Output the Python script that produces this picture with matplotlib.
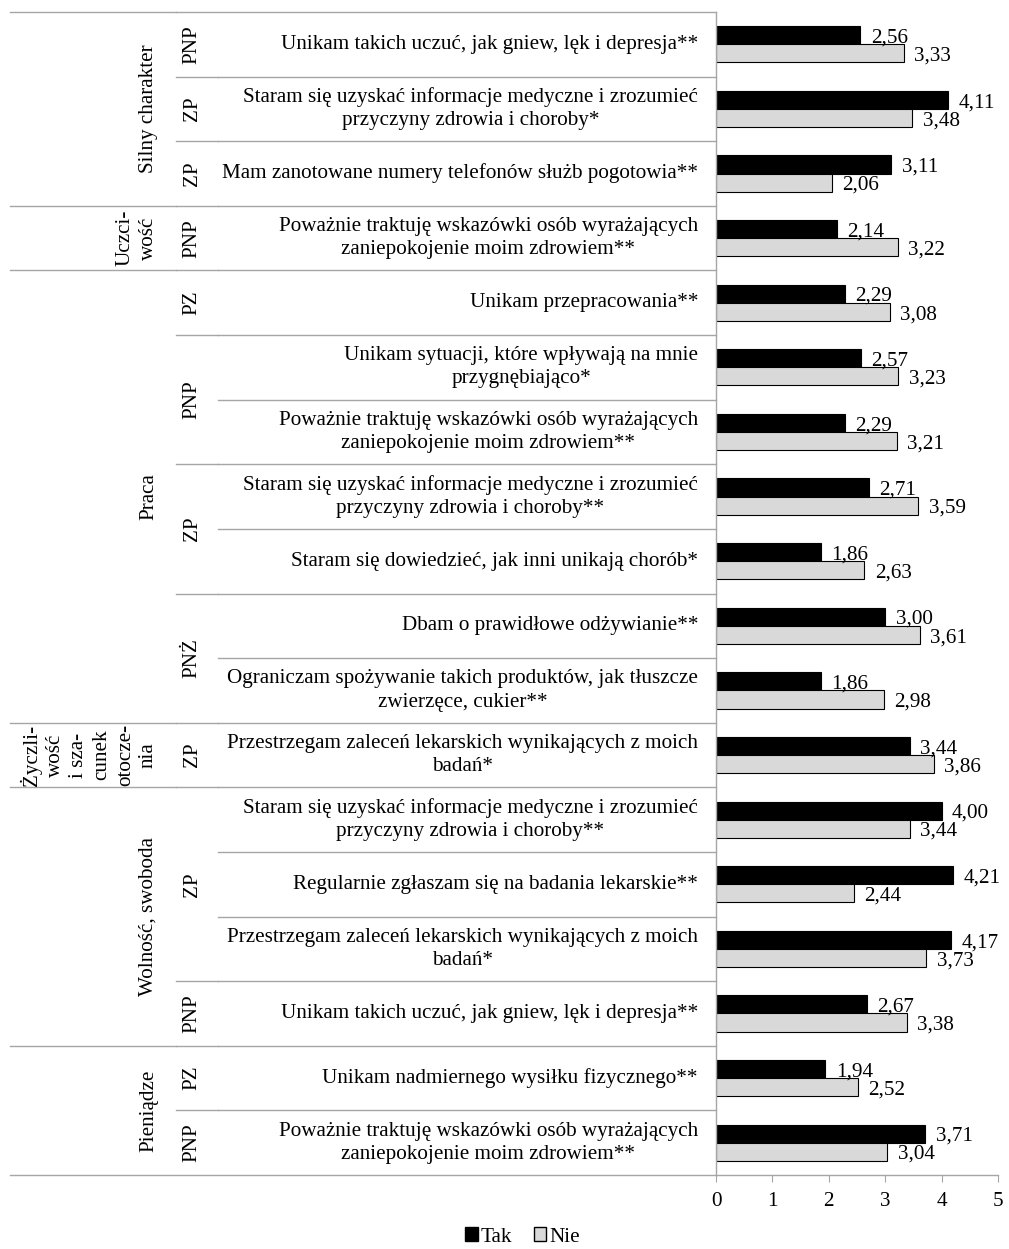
import matplotlib.pyplot as plt
from matplotlib.transforms import blended_transform_factory
from matplotlib.patches import Patch

plt.rcParams["font.family"] = ["Liberation Serif", "DejaVu Serif"]

# Statements (one per row, top to bottom)
statements = [
    "Unikam takich uczuć, jak gniew, lęk i depresja**",
    "Staram się uzyskać informacje medyczne i zrozumieć\nprzyczyny zdrowia i choroby*",
    "Mam zanotowane numery telefonów służb pogotowia**",
    "Poważnie traktuję wskazówki osób wyrażających\nzaniepokojenie moim zdrowiem**",
    "Unikam przepracowania**",
    "Unikam sytuacji, które wpływają na mnie\nprzygnębiająco*",
    "Poważnie traktuję wskazówki osób wyrażających\nzaniepokojenie moim zdrowiem**",
    "Staram się uzyskać informacje medyczne i zrozumieć\nprzyczyny zdrowia i choroby**",
    "Staram się dowiedzieć, jak inni unikają chorób*",
    "Dbam o prawidłowe odżywianie**",
    "Ograniczam spożywanie takich produktów, jak tłuszcze\nzwierzęce, cukier**",
    "Przestrzegam zaleceń lekarskich wynikających z moich\nbadań*",
    "Staram się uzyskać informacje medyczne i zrozumieć\nprzyczyny zdrowia i choroby**",
    "Regularnie zgłaszam się na badania lekarskie**",
    "Przestrzegam zaleceń lekarskich wynikających z moich\nbadań*",
    "Unikam takich uczuć, jak gniew, lęk i depresja**",
    "Unikam nadmiernego wysiłku fizycznego**",
    "Poważnie traktuję wskazówki osób wyrażających\nzaniepokojenie moim zdrowiem**",
]

tak = [2.56, 4.11, 3.11, 2.14, 2.29, 2.57, 2.29, 2.71, 1.86, 3.00, 1.86,
       3.44, 4.00, 4.21, 4.17, 2.67, 1.94, 3.71]
nie = [3.33, 3.48, 2.06, 3.22, 3.08, 3.23, 3.21, 3.59, 2.63, 3.61, 2.98,
       3.86, 3.44, 2.44, 3.73, 3.38, 2.52, 3.04]

# Category groups: (label, number of rows)
mid_groups = [("PNP", 1), ("ZP", 1), ("ZP", 1), ("PNP", 1), ("PZ", 1),
              ("PNP", 2), ("ZP", 2), ("PNŻ", 2), ("ZP", 1), ("ZP", 3),
              ("PNP", 1), ("PZ", 1), ("PNP", 1)]
outer_groups = [("Silny charakter", 3), ("Uczci-\nwość", 1), ("Praca", 7),
                ("Życzli-\nwość\ni sza-\ncunek\notocze-\nnia", 1),
                ("Wolność, swoboda", 4), ("Pieniądze", 2)]

W, H = 1009, 1249
fig = plt.figure(figsize=(W / 100, H / 100), dpi=100)
ax = fig.add_axes([716 / W, 1 - 1175 / H, (998 - 716) / W, (1175 - 12) / H])

n = len(statements)
rows = list(range(n))
bh = 0.28
fs = 15.2
grid_col = "#a6a6a6"

ax.barh([r - bh / 2 for r in rows], tak, height=bh, color="black",
        edgecolor="black", linewidth=0.8, label="Tak")
ax.barh([r + bh / 2 for r in rows], nie, height=bh, color="#d9d9d9",
        edgecolor="black", linewidth=0.8, label="Nie")

fmt = lambda v: f"{v:.2f}".replace(".", ",")
for r, t, v in zip(rows, tak, nie):
    ax.annotate(fmt(t), (t, r - bh / 2), xytext=(7.5, -2),
                textcoords="offset points", va="center", ha="left", fontsize=fs)
    ax.annotate(fmt(v), (v, r + bh / 2), xytext=(7.5, -2),
                textcoords="offset points", va="center", ha="left", fontsize=fs)

ax.set_xlim(0, 5)
ax.set_ylim(n - 0.5, -0.5)
ax.set_xticks(range(6))
ax.set_yticks([])
ax.tick_params(axis="x", labelsize=fs, color=grid_col, length=5, pad=7)
for side in ["top", "right"]:
    ax.spines[side].set_visible(False)
for side in ["left", "bottom"]:
    ax.spines[side].set_color(grid_col)
    ax.spines[side].set_linewidth(1.0)

# Category labels and divider lines to the left of the axis
tr = blended_transform_factory(fig.transFigure, ax.transData)
x_outer, x_mid, x_inner, x_axis = 10 / W, 176 / W, 218 / W, 716 / W

for r, s in enumerate(statements):
    ax.text(698 / W, r, s, transform=tr, ha="right", va="center",
            multialignment="center", fontsize=fs, linespacing=1.3)
    if r > 0:
        ax.plot([x_inner, x_axis], [r - 0.5, r - 0.5], transform=tr,
                color=grid_col, lw=1.0, clip_on=False)

start = 0
for name, cnt in mid_groups:
    ax.text(192 / W, start + (cnt - 1) / 2, name, transform=tr, rotation=90,
            ha="center", va="center", fontsize=fs)
    if start > 0:
        ax.plot([x_mid, x_inner], [start - 0.5, start - 0.5], transform=tr,
                color=grid_col, lw=1.0, clip_on=False)
    start += cnt

start = 0
for name, cnt in outer_groups:
    ax.text(158 / W, start + (cnt - 1) / 2, name, transform=tr, rotation=90,
            ha="right", va="center", multialignment="center", fontsize=fs,
            linespacing=1.3)
    ax.plot([x_outer, x_mid], [start - 0.5, start - 0.5], transform=tr,
            color=grid_col, lw=1.0, clip_on=False)
    start += cnt
ax.plot([x_outer, x_axis], [n - 0.5, n - 0.5], transform=tr,
        color=grid_col, lw=1.0, clip_on=False)
ax.plot([x_mid, x_axis], [-0.5, -0.5], transform=tr,
        color=grid_col, lw=1.0, clip_on=False)

handles = [Patch(facecolor="black", edgecolor="black", label="Tak"),
           Patch(facecolor="#d9d9d9", edgecolor="black", label="Nie")]
fig.legend(handles=handles, loc="center", bbox_to_anchor=(0.518, 0.0096),
           ncol=2, frameon=False, fontsize=fs, handlelength=0.6,
           handleheight=0.6, handletextpad=0.15, columnspacing=1.0)

fig.savefig("out.png", dpi=100)
